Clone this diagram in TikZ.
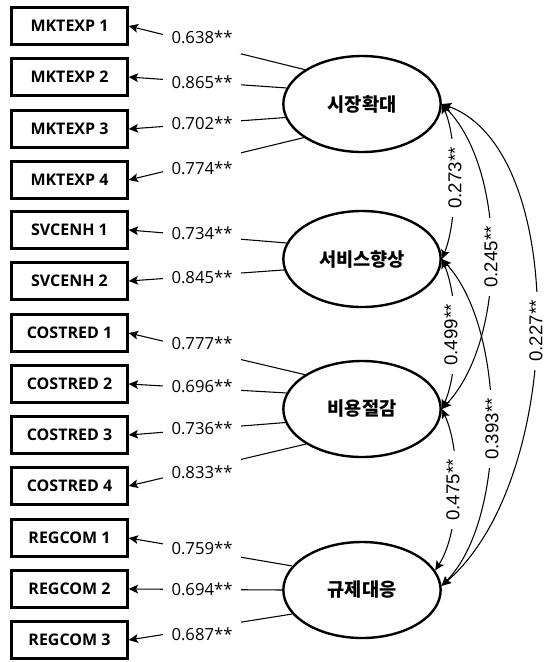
\documentclass[tikz,border=0pt]{standalone}
\usepackage{fontspec}
\setmainfont{Open Sans}
\newfontfamily\krfont{Noto Sans CJK KR}
\newfontfamily\arlfont{Liberation Sans}
\usetikzlibrary{arrows.meta,shapes.geometric}
\begin{document}
\begin{tikzpicture}[x=0.75pt,y=-0.75pt,
  >={Stealth[length=7pt,width=6.5pt,inset=1.5pt]},
  indbox/.style={draw,line width=1.8pt,minimum width=87pt,minimum height=28pt,inner sep=0pt,font=\bfseries\fontsize{12}{14}\selectfont},
  latent/.style={draw,ellipse,line width=1.8pt,minimum width=118pt,minimum height=72pt,inner sep=0pt,font=\krfont\bfseries\fontsize{14}{16}\selectfont},
  ldlabel/.style={fill=white,minimum width=58pt,minimum height=25.5pt,inner sep=0pt,font=\fontsize{12.5}{14}\selectfont},
  crlabel/.style={fill=white,rotate=90,inner xsep=6pt,inner ysep=1.5pt,font=\arlfont\fontsize{14}{16}\selectfont},
  conn/.style={line width=0.8pt}]
\useasboundingbox (0,0) rectangle (546,662);
% indicators
\foreach \n/\y/\t in {b1/26/MKTEXP 1,b2/77/MKTEXP 2,b3/129/MKTEXP 3,b4/180/MKTEXP 4,
  b5/230/SVCENH 1,b6/281/SVCENH 2,
  b7/333/COSTRED 1,b8/384/COSTRED 2,b9/435/COSTRED 3,b10/486/COSTRED 4,
  b11/538/REGCOM 1,b12/589/REGCOM 2,b13/640/REGCOM 3}
  \node[indbox] (\n) at (69.5,\y) {\t};
% latent variables
\node[latent] (e1) at (362,104) {시장확대};
\node[latent] (e2) at (362,259) {서비스향상};
\node[latent] (e3) at (362,409) {비용절감};
\node[latent] (e4) at (362,590) {규제대응};
% loadings
\foreach \e/\a/\b in {e1/149/b1,e1/168/b2,e1/190/b3,e1/210/b4,
  e2/168/b5,e2/188/b6,
  e3/149/b7,e3/168/b8,e3/190/b9,e3/212/b10,
  e4/161/b11,e4/180/b12,e4/199/b13}
  \draw[conn,->] (\e.\a) -- (\b.east);
\foreach \n/\y/\t in {l1/37/0.638**,l2/82/0.865**,l3/123/0.702**,l4/168/0.774**,
  l5/233/0.734**,l6/277/0.845**,
  l7/343/0.777**,l8/386/0.696**,l9/428/0.736**,l10/472/0.833**,
  l11/548/0.759**,l12/589/0.694**,l13/634/0.687**}
  \node[ldlabel] (\n) at (202,\y) {\t};
% correlations
\draw[conn,<->] (e1.east) .. controls (458,140) and (458,220) .. (e2.east);
\draw[conn,<->] (e1.east) .. controls (507,170) and (507,340) .. (e3.east);
\draw[conn,<->] (e1.east) .. controls (570,150) and (565,480) .. (e4.3);
\draw[conn,<->] (e2.east) .. controls (459,300) and (459,370) .. (e3.east);
\draw[conn,<->] (e2.east) .. controls (507,330) and (507,520) .. (e4.3);
\draw[conn,<->] (e3.east) .. controls (461,450) and (461,530) .. (e4.15);
\node[crlabel] (c12) at (455,178) {0.273**};
\node[crlabel] (c13) at (491,257) {0.245**};
\node[crlabel] (c14) at (536,331) {0.227**};
\node[crlabel] (c23) at (451,335) {0.499**};
\node[crlabel] (c24) at (492,429) {0.393**};
\node[crlabel] (c34) at (453,490) {0.475**};
\end{tikzpicture}
\end{document}
